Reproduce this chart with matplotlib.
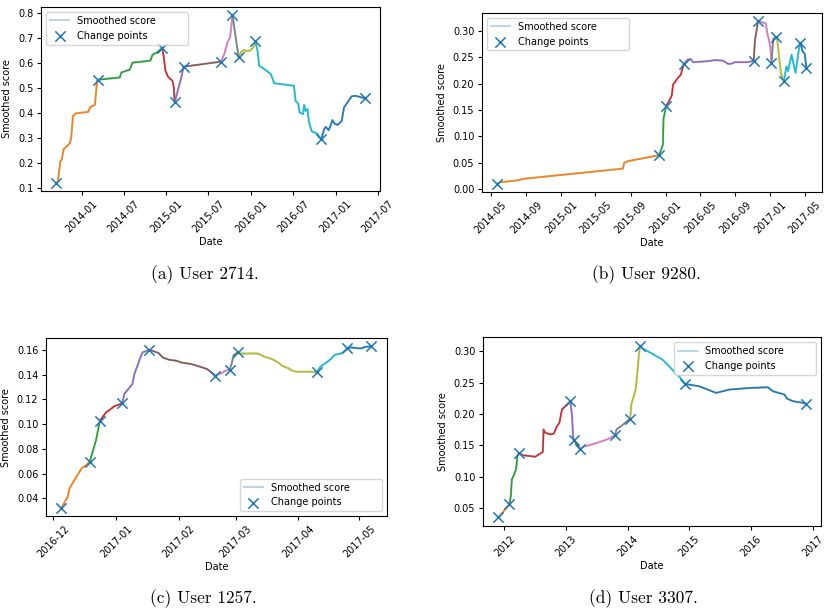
import numpy as np
import pandas as pd
import matplotlib
matplotlib.use('Agg')
import matplotlib.pyplot as plt
import matplotlib.dates as mdates

# User 2714
dates_a = ['2013-09-14', '2013-09-20', '2013-10-01', '2013-10-07', '2013-10-15', '2013-11-10',
           '2013-11-17', '2013-11-24', '2013-12-07', '2014-01-29', '2014-02-08', '2014-02-27',
           '2014-03-08', '2014-03-13', '2014-06-14', '2014-06-21', '2014-07-27', '2014-08-08',
           '2014-10-24', '2014-11-02', '2014-11-23', '2014-12-14', '2014-12-20', '2014-12-28',
           '2015-01-08', '2015-01-27', '2015-02-02', '2015-02-06', '2015-02-21', '2015-03-08',
           '2015-03-16', '2015-08-24', '2015-09-08', '2015-09-22', '2015-10-03', '2015-10-13',
           '2015-11-08', '2015-11-21', '2015-12-02', '2015-12-10', '2015-12-28', '2016-01-11',
           '2016-01-19', '2016-01-29', '2016-02-05', '2016-03-02', '2016-03-26', '2016-04-10',
           '2016-07-04', '2016-07-11', '2016-07-23', '2016-07-28', '2016-08-12', '2016-08-17',
           '2016-08-23', '2016-08-31', '2016-09-07', '2016-09-19', '2016-10-11', '2016-10-30',
           '2016-11-11', '2016-11-18', '2016-12-01', '2016-12-17', '2016-12-25', '2017-01-08',
           '2017-01-26', '2017-02-05', '2017-03-10', '2017-03-27', '2017-05-05']
score_a = [0.123, 0.127, 0.209, 0.215, 0.256, 0.279,
           0.303, 0.389, 0.399, 0.405, 0.425, 0.433,
           0.529, 0.533, 0.542, 0.562, 0.573, 0.601,
           0.609, 0.632, 0.643, 0.660, 0.629, 0.569,
           0.545, 0.529, 0.503, 0.443, 0.496, 0.549,
           0.585, 0.605, 0.636, 0.683, 0.703, 0.789,
           0.625, 0.645, 0.652, 0.647, 0.649, 0.662,
           0.687, 0.649, 0.589, 0.573, 0.556, 0.519,
           0.509, 0.449, 0.436, 0.403, 0.396, 0.433,
           0.409, 0.416, 0.363, 0.327, 0.319, 0.296,
           0.336, 0.345, 0.332, 0.372, 0.359, 0.353,
           0.369, 0.423, 0.467, 0.469, 0.459]
cps_a = ['2013-09-14', '2014-03-13', '2014-12-14', '2015-02-06', '2015-03-16', '2015-08-24',
         '2015-10-13', '2015-11-08', '2016-01-19', '2016-10-30', '2017-05-05']

# User 9280
dates_b = ['2014-05-24', '2014-06-02', '2014-08-02', '2014-08-25', '2015-08-05', '2015-08-10',
           '2015-08-22', '2015-12-09', '2015-12-17', '2015-12-23', '2015-12-25', '2016-01-03',
           '2016-01-15', '2016-01-23', '2016-01-27', '2016-02-13', '2016-02-23', '2016-03-05',
           '2016-03-19', '2016-03-29', '2016-04-06', '2016-05-28', '2016-06-21', '2016-07-20',
           '2016-08-06', '2016-08-18', '2016-08-30', '2016-10-15', '2016-11-04', '2016-11-08',
           '2016-11-19', '2016-12-01', '2016-12-16', '2016-12-21', '2016-12-28', '2017-01-01',
           '2017-01-05', '2017-01-11', '2017-01-20', '2017-01-25', '2017-02-01', '2017-02-07',
           '2017-02-12', '2017-02-18', '2017-02-26', '2017-03-04', '2017-03-16', '2017-03-30',
           '2017-04-12', '2017-04-16', '2017-04-23', '2017-05-01', '2017-05-07']
score_b = [0.010, 0.013, 0.0166, 0.0197, 0.0389, 0.0503,
           0.053, 0.0643, 0.075, 0.085, 0.134, 0.157,
           0.169, 0.178, 0.198, 0.211, 0.217, 0.238,
           0.246, 0.247, 0.241, 0.243, 0.245, 0.244,
           0.238, 0.238, 0.241, 0.241, 0.244, 0.281,
           0.319, 0.317, 0.315, 0.297, 0.281, 0.271,
           0.239, 0.285, 0.289, 0.284, 0.249, 0.220,
           0.213, 0.206, 0.233, 0.224, 0.255, 0.221,
           0.270, 0.278, 0.262, 0.257, 0.230]
cps_b = ['2014-05-24', '2015-12-09', '2016-01-03', '2016-03-05', '2016-11-04', '2016-11-19',
         '2017-01-05', '2017-01-20', '2017-02-18', '2017-04-16', '2017-05-07']

# User 1257
dates_c = ['2016-12-05', '2016-12-07', '2016-12-08', '2016-12-09', '2016-12-12', '2016-12-15',
           '2016-12-17', '2016-12-19', '2016-12-22', '2016-12-24', '2016-12-27', '2016-12-29',
           '2016-12-31', '2017-01-04', '2017-01-05', '2017-01-09', '2017-01-10', '2017-01-13',
           '2017-01-14', '2017-01-17', '2017-01-19', '2017-01-22', '2017-01-24', '2017-01-27',
           '2017-01-31', '2017-02-02', '2017-02-07', '2017-02-11', '2017-02-15', '2017-02-19',
           '2017-02-22', '2017-02-24', '2017-02-26', '2017-02-27', '2017-02-28', '2017-03-02',
           '2017-03-03', '2017-03-12', '2017-03-15', '2017-03-19', '2017-03-22', '2017-03-24',
           '2017-03-27', '2017-03-29', '2017-03-31', '2017-04-08', '2017-04-10', '2017-04-12',
           '2017-04-15', '2017-04-17', '2017-04-19', '2017-04-22', '2017-04-24', '2017-04-25',
           '2017-04-27', '2017-04-30', '2017-05-02', '2017-05-04', '2017-05-07']
score_c = [0.0322, 0.0384, 0.041, 0.0483, 0.0564, 0.0644,
           0.0666, 0.0698, 0.0867, 0.1028, 0.1095, 0.1117,
           0.1144, 0.1168, 0.1243, 0.1323, 0.1404, 0.1538,
           0.1579, 0.1597, 0.1592, 0.1573, 0.1538, 0.152,
           0.1511, 0.1498, 0.1485, 0.1466, 0.1444, 0.1391,
           0.1412, 0.1431, 0.1439, 0.1485, 0.1557, 0.1579,
           0.157, 0.157, 0.1546, 0.1525, 0.1498, 0.1471,
           0.1452, 0.1431, 0.1423, 0.1423, 0.1417, 0.1466,
           0.1498, 0.1525, 0.156, 0.157, 0.1592, 0.1611,
           0.1619, 0.1613, 0.1611, 0.1624, 0.1627]
cps_c = ['2016-12-05', '2016-12-19', '2016-12-24', '2017-01-04', '2017-01-17', '2017-02-19',
         '2017-02-26', '2017-03-02', '2017-04-10', '2017-04-25', '2017-05-07']

# User 3307
dates_d = ['2011-11-26', '2012-01-31', '2012-02-08', '2012-02-14', '2012-02-24', '2012-03-10',
           '2012-03-18', '2012-03-28', '2012-04-23', '2012-07-02', '2012-08-16', '2012-08-20',
           '2012-08-30', '2012-09-29', '2012-10-19', '2012-11-08', '2012-11-22', '2012-12-07',
           '2012-12-27', '2013-01-26', '2013-02-05', '2013-02-11', '2013-02-15', '2013-03-07',
           '2013-03-23', '2013-04-15', '2013-06-24', '2013-09-01', '2013-10-17', '2013-10-27',
           '2013-11-30', '2014-01-14', '2014-01-18', '2014-01-22', '2014-02-17', '2014-02-27',
           '2014-03-09', '2014-03-15', '2014-03-29', '2014-05-08', '2014-07-26', '2014-09-04',
           '2014-10-03', '2014-11-02', '2014-12-08', '2015-03-01', '2015-06-09', '2015-08-27',
           '2015-11-04', '2015-12-24', '2016-04-11', '2016-05-11', '2016-07-19', '2016-08-02',
           '2016-09-07', '2016-11-06', '2016-11-22']
score_d = [0.0346, 0.0558, 0.069, 0.0956, 0.101, 0.1116,
           0.1328, 0.137, 0.1339, 0.1317, 0.1392, 0.1753,
           0.170, 0.1673, 0.1684, 0.1806, 0.1859, 0.2071,
           0.2124, 0.2204, 0.1965, 0.1647, 0.1578, 0.151,
           0.1445, 0.1477, 0.153, 0.1593, 0.1657, 0.1753,
           0.1822, 0.1922, 0.1992, 0.2151, 0.239, 0.2655,
           0.2973, 0.309, 0.305, 0.299, 0.287, 0.276,
           0.268, 0.260, 0.248, 0.2443, 0.2337, 0.239,
           0.2405, 0.2416, 0.2427, 0.2363, 0.231, 0.2246,
           0.2204, 0.2177, 0.2161]
cps_d = ['2011-11-26', '2012-01-31', '2012-03-28', '2013-01-26', '2013-02-15', '2013-03-23',
         '2013-10-17', '2014-01-14', '2014-03-15', '2014-12-08', '2016-11-22']

captions = ['(a) User 2714.', '(b) User 9280.', '(c) User 1257.', '(d) User 3307.']


def plot_user(ax, dates, score, cps, loc, locator, fmt):
    d = pd.to_datetime(dates)
    s = np.array(score)
    # faint full series first, then one coloured piece per segment
    # (trailing spaces widen the legend box like in the original)
    ax.plot(d, s, alpha=0.3, label='Smoothed score' + ' ' * 9)
    idx = [dates.index(c) for c in cps]
    for i0, i1 in zip(idx[:-1], idx[1:]):
        ax.plot(d[i0:i1 + 1], s[i0:i1 + 1], lw=1.2)
    ax.scatter(d[idx], s[idx], marker='x', s=55, color='C0', linewidths=1.1,
               label='Change points', zorder=3)
    ax.xaxis.set_major_locator(locator)
    ax.xaxis.set_major_formatter(mdates.DateFormatter(fmt))
    ax.tick_params(axis='x', rotation=45)
    ax.tick_params(labelsize=7, length=3, pad=2.5)
    ax.set_xlabel('Date', fontsize=7, labelpad=2)
    ax.set_ylabel('Smoothed score', fontsize=7, labelpad=4)
    ax.legend(loc=loc, fontsize=7)


fig = plt.figure(figsize=(8.29, 6.13), dpi=100)
ax_a = fig.add_axes([0.0495, 0.6884, 0.409, 0.300])
ax_b = fig.add_axes([0.5814, 0.6868, 0.410, 0.292])
ax_c = fig.add_axes([0.0555, 0.158, 0.411, 0.290])
ax_d = fig.add_axes([0.5826, 0.1419, 0.408, 0.308])

plot_user(ax_a, dates_a, score_a, cps_a, 'upper left', mdates.MonthLocator(bymonth=[1, 7]), '%Y-%m')
plot_user(ax_b, dates_b, score_b, cps_b, 'upper left', mdates.MonthLocator(bymonth=[1, 5, 9]), '%Y-%m')
plot_user(ax_c, dates_c, score_c, cps_c, 'lower right', mdates.MonthLocator(), '%Y-%m')
plot_user(ax_d, dates_d, score_d, cps_d, 'upper right', mdates.YearLocator(), '%Y')

# sub-figure captions
cap_pos = [(205, 275), (646, 275), (203, 599), (643, 599)]
for (px, py), text in zip(cap_pos, captions):
    fig.text(px / 829, 1 - py / 613, text, family='cmr10', fontsize=12.5,
             ha='center', va='center')

fig.savefig('out.png', dpi=100)
